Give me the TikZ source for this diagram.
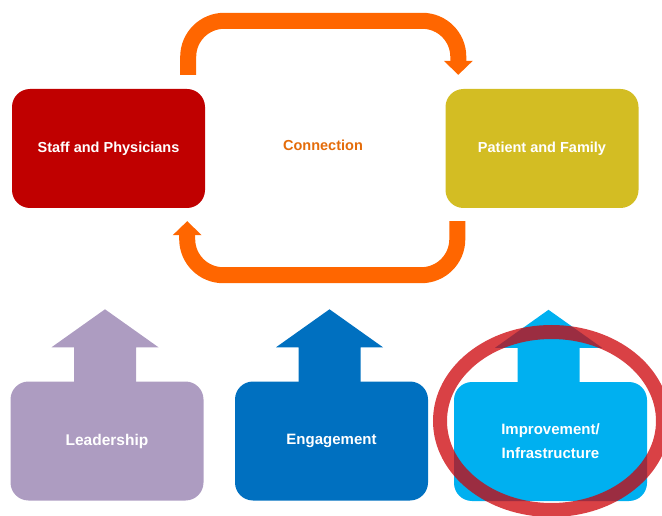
\documentclass[tikz,border=0pt]{standalone}
\usepackage{fontspec}
\setmainfont{Liberation Sans}
\usepackage{xcolor}
\usetikzlibrary{positioning, arrows.meta, calc}
\definecolor{rougefonce}{RGB}{192, 0, 0}
\definecolor{moutarde}{RGB}{211, 189, 35}
\definecolor{orangevif}{RGB}{255, 102, 0}
\definecolor{orangetexte}{RGB}{228, 108, 10}
\definecolor{lavande}{RGB}{173, 156, 193}
\definecolor{bleuroi}{RGB}{0, 112, 192}
\definecolor{bleuciel}{RGB}{0, 176, 240}
\definecolor{rougecercle}{RGB}{205, 5, 10}

\begin{document}
\begin{tikzpicture}[x=1pt, y=1pt,
    boite/.style={rectangle, rounded corners=18pt, inner sep=0pt, align=center,
                  minimum width=193pt, minimum height=119pt, text=white,
                  font=\fontsize{14.5}{24}\selectfont\bfseries},
    cycle/.style={draw=orangevif, line width=16pt, rounded corners=36pt,
                  -{Triangle[length=14pt, width=29pt, line width=0pt]}},
    cercle/.style={draw=rougecercle, draw opacity=0.76, line width=14pt}]
    \path[use as bounding box] (0,0) rectangle (662,515);
    % ligne du haut : personnel <-> patient
    \node[boite, fill=rougefonce] (staff) at (108.5,366.5) {Staff and Physicians};
    \node[boite, fill=moutarde] (patient) at (542,366.5) {Patient and Family};
    \node[font=\fontsize{14.5}{18}\selectfont\bfseries, text=orangetexte] (lien) at (323,370) {Connection};
    \draw[cycle] ([shift={(-17,14)}]staff.north east) -- ++(0,54) -| ([shift={(13,14)}]patient.north west);
    \draw[cycle] ([shift={(12,-13)}]patient.south west) -- ++(0,-54) -| ([shift={(-18,-13)}]staff.south east);
    % ligne du bas : trois piliers avec leur fleche
    \node[boite, fill=lavande, font=\fontsize{15.5}{24}\selectfont\bfseries] (lead) at (107,74) {Leadership};
    \node[boite, fill=bleuroi, font=\fontsize{15}{24}\selectfont\bfseries] (engage) at (331.5,74) {Engagement};
    \node[boite, fill=bleuciel, font=\fontsize{15}{24}\selectfont\bfseries] (amelior) at (550.5,73.5) {Improvement/\\Infrastructure};
    \foreach \b/\c in {lead/lavande, engage/bleuroi, amelior/bleuciel}
      \fill[\c] ([shift={(-33,-2)}]\b.north) -- ++(0,36) -- ++(-22.5,0)
        -- ([shift={(-2,72)}]\b.north) -- ++(53.5,-38) -- ++(-22.5,0) -- ++(0,-36) -- cycle;
    \draw[cercle] (551.5,94) ellipse [x radius=111.5, y radius=89];
\end{tikzpicture}
\end{document}
